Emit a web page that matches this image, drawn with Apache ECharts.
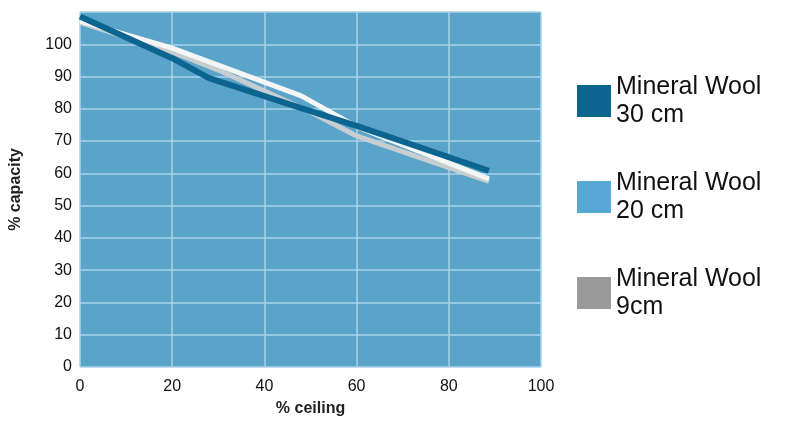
<!DOCTYPE html><html><head><meta charset="utf-8"><script src="https://cdn.jsdelivr.net/npm/echarts@6/dist/echarts.min.js"></script>
<style>html,body{margin:0;background:#fff}#c{width:800px;height:438px}</style></head><body><div id="c"></div><script>
const xTicks=[0,20,40,60,80,100];
const yTicks=[0,10,20,30,40,50,60,70,80,90,100];
const names=['Mineral Wool\n30 cm','Mineral Wool\n20 cm','Mineral Wool\n9cm'];
const wool30=[[0,108.6],[20,95.7],[28,89.5],[48,80.2],[60,74.7],[88.7,60.8]];
const wool20=[[0,107.2],[20,98.8],[48,84],[60,74.5],[88.7,58.3]];
const wool9=[[0,106.8],[20,97.6],[30,92],[50,79],[60,71.6],[88.7,57.5]];
const lineColors=['#0c6590','#f4f6f6','#c8cdd0'];
const legendColors=['#0b6590','#58a8d6','#9a9a9a'];
const chart=echarts.init(document.getElementById('c'));
const data=[wool30,wool20,wool9];
const order=[2,1,0];
chart.setOption({
 animation:false,
 grid:{left:80,right:259,top:12,bottom:71,show:true,backgroundColor:'#5aa3c9',borderWidth:0},
 xAxis:{type:'value',min:0,max:100,interval:20,axisLine:{show:false},axisTick:{show:false},
  splitLine:{lineStyle:{color:'#a9d3ea',width:1.5}},
  axisLabel:{color:'#111',fontSize:16,fontFamily:'Liberation Sans',margin:12},
  name:'% ceiling',nameLocation:'middle',nameGap:34,nameTextStyle:{fontSize:16,fontWeight:'bold',color:'#222',fontFamily:'Liberation Sans'}},
 yAxis:{type:'value',min:0,max:110,interval:10,axisLine:{show:false},axisTick:{show:false},
  splitLine:{lineStyle:{color:'#a9d3ea',width:1.5}},
  axisLabel:{color:'#111',fontSize:16,fontFamily:'Liberation Sans',margin:8,formatter:v=>yTicks.includes(v)?v:''},
  name:'% capacity',nameLocation:'middle',nameGap:56,nameTextStyle:{fontSize:16,fontWeight:'bold',color:'#222',fontFamily:'Liberation Sans'}},
 legend:{orient:'vertical',left:572,top:68,itemWidth:34,itemHeight:32,itemGap:40,icon:'rect',
  textStyle:{fontSize:25,color:'#111',fontFamily:'Liberation Sans',lineHeight:28},
  data:names.map((n,i)=>({name:n,itemStyle:{color:legendColors[i]}}))},
 series:order.map(i=>({
  name:names[i],type:'line',data:data[i],symbol:'none',color:legendColors[i],
  lineStyle:{color:lineColors[i],width:i===0?6:5},z:2+(2-i)
 }))
});
</script></body></html>
